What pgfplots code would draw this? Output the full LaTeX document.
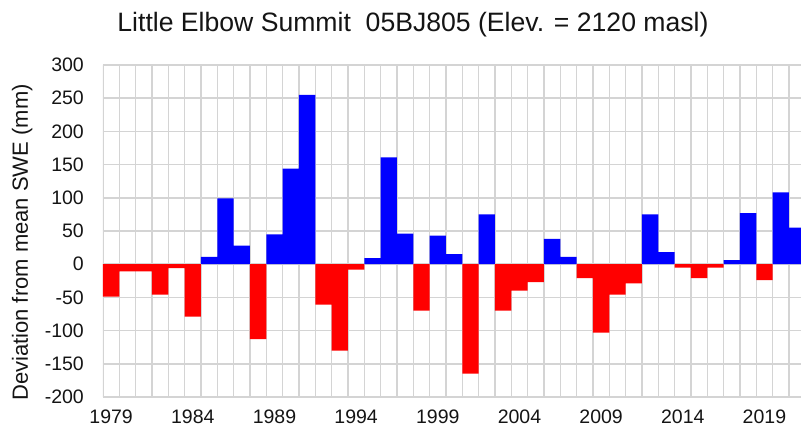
\documentclass[border=0pt]{standalone}
\usepackage{pgfplots}
\pgfplotsset{compat=1.18}
\usepackage{fontspec}
\setmainfont{Liberation Sans}
\definecolor{gridgray}{RGB}{212,212,212}
\definecolor{txt}{RGB}{20,20,20}
\begin{document}
\begin{tikzpicture}
\begin{axis}[
  name=ax,
  scale only axis,
  width=698pt, height=332pt,
  xmin=1978.5, xmax=2021.24,
  ymin=-200, ymax=300,
  ytick={-200,-150,...,300},
  xtick={1979,1984,1989,1994,1999,2004,2009,2014,2019},
  xmajorgrids=false, ymajorgrids=true,
  grid style={gridgray, line width=1.5pt},
  axis line style={draw=none},
  major tick length=0pt, minor tick length=0pt,
  /pgf/number format/1000 sep={},
  /pgf/number format/assume math mode=true,
  tick label style={font=\fontsize{19.5}{21}\selectfont, text=txt, inner sep=0pt},
  yticklabel style={anchor=east, xshift=-19pt},
  xticklabel style={anchor=base, yshift=-26.8pt},
  clip=true,
]
\pgfplotsinvokeforeach{1978.5,1979.5,...,2021.5}{
  \draw[gridgray, line width=1.5pt] (axis cs:#1,-200) -- (axis cs:#1,300);
}
\addplot[ybar, bar width=1, bar shift=0, fill=blue, draw=none] coordinates {
(1985,11) (1986,99) (1987,28) (1989,45) (1990,144) (1991,255)
(1995,9) (1996,161) (1997,46) (1999,43) (2000,15) (2002,75)
(2006,38) (2007,11) (2012,75) (2013,18) (2017,6) (2018,77)
(2020,108) (2021,55)
};
\addplot[ybar, bar width=1, bar shift=0, fill=red, draw=none] coordinates {
(1979,-49) (1980,-11) (1981,-11) (1982,-46) (1983,-6) (1984,-79)
(1988,-113) (1992,-61) (1993,-130) (1994,-8) (1998,-70) (2001,-165)
(2003,-70) (2004,-40) (2005,-27) (2008,-21) (2009,-103) (2010,-46)
(2011,-29) (2014,-5) (2015,-21) (2016,-5) (2019,-24)
};
\end{axis}
\node[font=\fontsize{26.6}{29}\selectfont, text=txt, anchor=base]
  at ([shift={(310pt,33.3pt)}]ax.north west) {Little Elbow Summit\ \ 05BJ805 (Elev. = 2120 masl)};
\node[font=\fontsize{22}{24}\selectfont, text=txt, rotate=90, anchor=base]
  at ([shift={(-75pt,-11.5pt)}]ax.west) {Deviation from mean SWE (mm)};
\pgfresetboundingbox
\path[use as bounding box] ([shift={(-103pt,-31pt)}]ax.south west) rectangle ([shift={(0pt,65pt)}]ax.north east);
\end{tikzpicture}
\end{document}
